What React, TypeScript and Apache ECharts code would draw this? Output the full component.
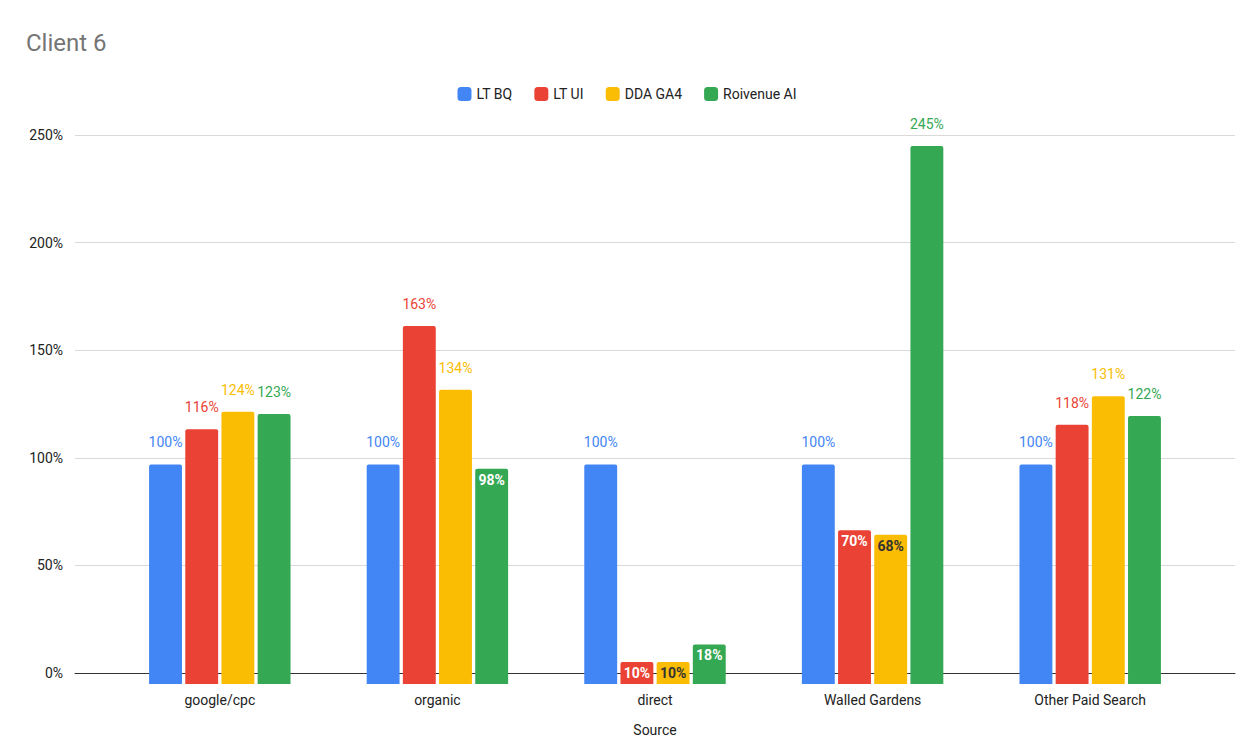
import React, { useEffect, useRef } from 'react';
import * as echarts from 'echarts';

const categories = ['google/cpc', 'organic', 'direct', 'Walled Gardens', 'Other Paid Search'];
const seriesNames = ['LT BQ', 'LT UI', 'DDA GA4', 'Roivenue AI'];
const colors = ['#4285f4', '#ea4335', '#fbbc04', '#34a853'];
const ltBq = [100, 100, 100, 100, 100];
const ltUi = [116, 163, 10, 70, 118];
const ddaGa4 = [124, 134, 10, 68, 131];
const roivenueAi = [123, 98, 18, 245, 122];
// labels drawn inside the bar: [series index, category index, text colour]
const insideLabels: [number, number, string][] = [
  [3, 1, '#fff'], [1, 2, '#fff'], [2, 2, '#333'], [3, 2, '#fff'], [1, 3, '#fff'], [2, 3, '#333'],
];
const yTicks = [0, 50, 100, 150, 200, 250];

const App: React.FC = () => {
  const ref = useRef<HTMLDivElement>(null);

  useEffect(() => {
    if (!ref.current) return;
    const chart = echarts.init(ref.current, null, { renderer: 'svg' });
    const all = [ltBq, ltUi, ddaGa4, roivenueAi];
    const yRange = { min: yTicks[0], max: yTicks[yTicks.length - 1], interval: 50 };
    chart.setOption({
      animation: false,
      textStyle: { fontFamily: 'Roboto, Arial, sans-serif' },
      title: {
        text: 'Client 6', left: 13, top: 18,
        textStyle: { fontSize: 24, fontWeight: 'normal', color: '#757575' },
      },
      legend: {
        top: 74, left: 'center', itemWidth: 14, itemHeight: 14, itemGap: 22,
        icon: 'roundRect', textStyle: { fontSize: 14, color: '#222' },
        data: seriesNames,
      },
      grid: [
        { left: 67, right: 11, top: 127, bottom: 58 },
        { left: 103, right: 47, top: 127, bottom: 58 },
      ],
      xAxis: [
        {
          gridIndex: 0, type: 'category', data: [''],
          name: 'Source', nameLocation: 'middle', nameGap: 50,
          nameTextStyle: { fontSize: 14, color: '#222' },
          axisTick: { show: false }, axisLabel: { show: false },
          axisLine: { lineStyle: { color: '#333' } },
        },
        {
          gridIndex: 1, type: 'category', data: categories,
          axisTick: { show: false }, axisLine: { show: false },
          axisLabel: { fontSize: 14, color: '#222', margin: 9 },
        },
      ],
      yAxis: [
        {
          gridIndex: 0, type: 'value', ...yRange,
          axisLabel: { formatter: '{value}%', fontSize: 14, color: '#222', margin: 12 },
          splitLine: { lineStyle: { color: '#d9d9d9' } },
        },
        {
          gridIndex: 1, type: 'value', ...yRange,
          axisLabel: { show: false }, splitLine: { show: false },
        },
      ],
      series: all.map((vals, s) => ({
        name: seriesNames[s], type: 'bar', xAxisIndex: 1, yAxisIndex: 1,
        barGap: '10%', barCategoryGap: '35%',
        itemStyle: { color: colors[s], borderRadius: [2, 2, 0, 0] },
        label: { show: true, position: 'top', formatter: '{c}%', color: colors[s], fontSize: 14, distance: 15 },
        data: vals.map((v, c) => {
          const inside = insideLabels.find(([si, ci]) => si === s && ci === c);
          return inside
            ? { value: v, label: { position: 'insideTop', distance: 4, color: inside[2], fontWeight: 'bold' } }
            : v;
        }),
      })),
    });
    return () => chart.dispose();
  }, []);

  return <div ref={ref} style={{ width: 1238, height: 734 }} />;
};

export default App;
